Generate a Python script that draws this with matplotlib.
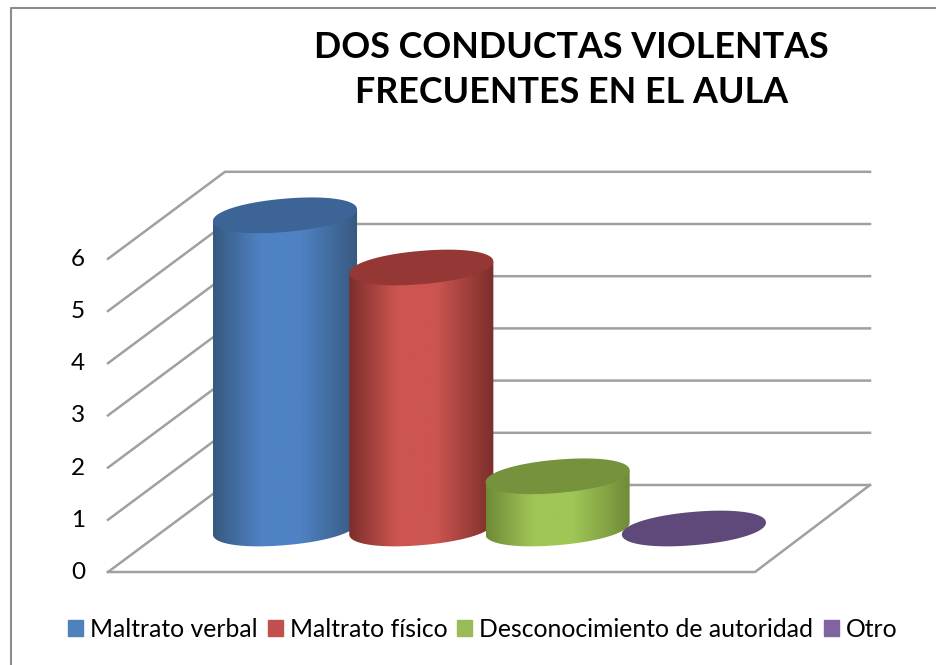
# Dos conductas violentas - 3D style cylinder chart
import matplotlib
matplotlib.use("Agg")
import matplotlib.pyplot as plt
import matplotlib.patches as mpatches
from matplotlib.colors import LinearSegmentedColormap
from matplotlib.path import Path
import numpy as np

# data
categorias = ["Maltrato verbal", "Maltrato físico", "Desconocimiento de autoridad", "Otro"]
valores = [6, 5, 1, 0]
ticks = [0, 1, 2, 3, 4, 5, 6]
titulo = "DOS CONDUCTAS VIOLENTAS\nFRECUENTES EN EL AULA"

# colours per series: edge, middle of the side, top face, legend
lado_borde = ["#37597f", "#7c2e2b", "#6f8a38", "#5f497a"]
lado_centro = ["#4f82c4", "#cc5551", "#a0c656", "#8064a2"]
tapa = ["#3c6496", "#953735", "#76923c", "#5f497a"]
leyenda = ["#4f81bd", "#c0504d", "#9bbb59", "#8064a2"]

plt.rcParams["font.family"] = ["Lato", "DejaVu Sans"]

W, H = 936, 665
PX_CAT = 136.3   # px between cylinders
PX_VAL = 52.2    # px per unit
X0, Y0 = 285.0, 528.5   # pixel of first cylinder base centre

fig = plt.figure(figsize=(W / 100, H / 100), dpi=100)
ax = fig.add_axes([0, 0, 1, 1])
ax.axis("off")


def cx(px):
    return px / PX_CAT


def cy(px):
    return px / PX_VAL


# floor and walls, offsets from the first base centre
frente_izq, frente_der, fondo_izq, fondo_der = cx(108 - X0), cx(755 - X0), cx(225 - X0), cx(870 - X0)
frente_y, fondo_y = cy(Y0 - 572), cy(Y0 - 485)
gris = "#a0a0a0"
for t in ticks:
    ax.plot([frente_izq, fondo_izq, fondo_der], [frente_y + t, fondo_y + t, fondo_y + t],
            color=gris, lw=1.8, solid_joinstyle="miter", zorder=1)
    ax.text(cx(78 - X0), frente_y + t - cy(0.5), str(t), fontsize=17.5, color="black",
            ha="center", va="center", zorder=5)
ax.plot([frente_izq, frente_der, fondo_der], [frente_y, frente_y, fondo_y],
        color=gris, lw=1.8, zorder=1)

# ellipse shape, a little blunt at the ends
a, b, ang = 72.3, 16.6, np.radians(5.0)
n = 180
tt = np.linspace(0, 2 * np.pi, n, endpoint=False)
ca = np.sign(np.cos(tt)) * np.abs(np.cos(tt)) ** (2 / 2.1)
sa = np.sign(np.sin(tt)) * np.abs(np.sin(tt)) ** (2 / 2.1)
ex = a * ca * np.cos(ang) - b * sa * np.sin(ang)
ey = a * ca * np.sin(ang) + b * sa * np.cos(ang)
ex, ey = cx(ex), cy(ey)
i_izq, i_der = int(np.argmin(ex)), int(np.argmax(ex))
# lower half of the ellipse, left extreme to right extreme
mitad = (i_izq + np.arange((i_der - i_izq) % n + 1)) % n

for i, v in enumerate(valores):
    if v > 0:
        low = np.c_[i + ex[mitad], ey[mitad]]
        top_r = [i + ex[i_der], v + ey[i_der]]
        top_l = [i + ex[i_izq], v + ey[i_izq]]
        verts = np.vstack([low, top_r, top_l, low[0]])
        clip = mpatches.PathPatch(Path(verts), transform=ax.transData, fc="none", ec="none")
        ax.add_patch(clip)
        cmap = LinearSegmentedColormap.from_list(
            "c", [(0, lado_borde[i]), (0.33, lado_centro[i]), (0.6, lado_centro[i]), (1, lado_borde[i])])
        grad = np.linspace(0, 1, 256).reshape(1, -1)
        im = ax.imshow(grad, cmap=cmap, aspect="auto", zorder=2 + i * 0.1,
                       extent=[i + ex[i_izq], i + ex[i_der], ey.min() - 1, v + 1])
        im.set_clip_path(clip)
    ax.fill(i + ex, v + ey, fc=tapa[i], ec="none", zorder=2.05 + i * 0.1)

ax.set_xlim(-X0 / PX_CAT, (W - X0) / PX_CAT)
ax.set_ylim((Y0 - H) / PX_VAL, Y0 / PX_VAL)

# title
fig.text(571.5 / W, 1 - 70 / H, titulo, fontsize=25.8, fontweight="bold", color="black",
         ha="center", va="center", linespacing=1.48)

# legend
handles = [mpatches.Patch(color=c, label=l) for c, l in zip(leyenda, categorias)]
fig.legend(handles=handles, loc="center", bbox_to_anchor=(482.5 / W, 1 - 629.5 / H), ncol=4,
           frameon=False, fontsize=17.8, handlelength=0.61, handleheight=0.61,
           handletextpad=0.28, columnspacing=0.41, borderpad=0)

# picture frame, only left and top are visible
fig.add_artist(plt.Line2D([10.5 / W, 10.5 / W, 1], [0, 1 - 7.5 / H, 1 - 7.5 / H],
                          transform=fig.transFigure, color="#8c8c8c", lw=1.5))

fig.savefig("out.png", dpi=100)
